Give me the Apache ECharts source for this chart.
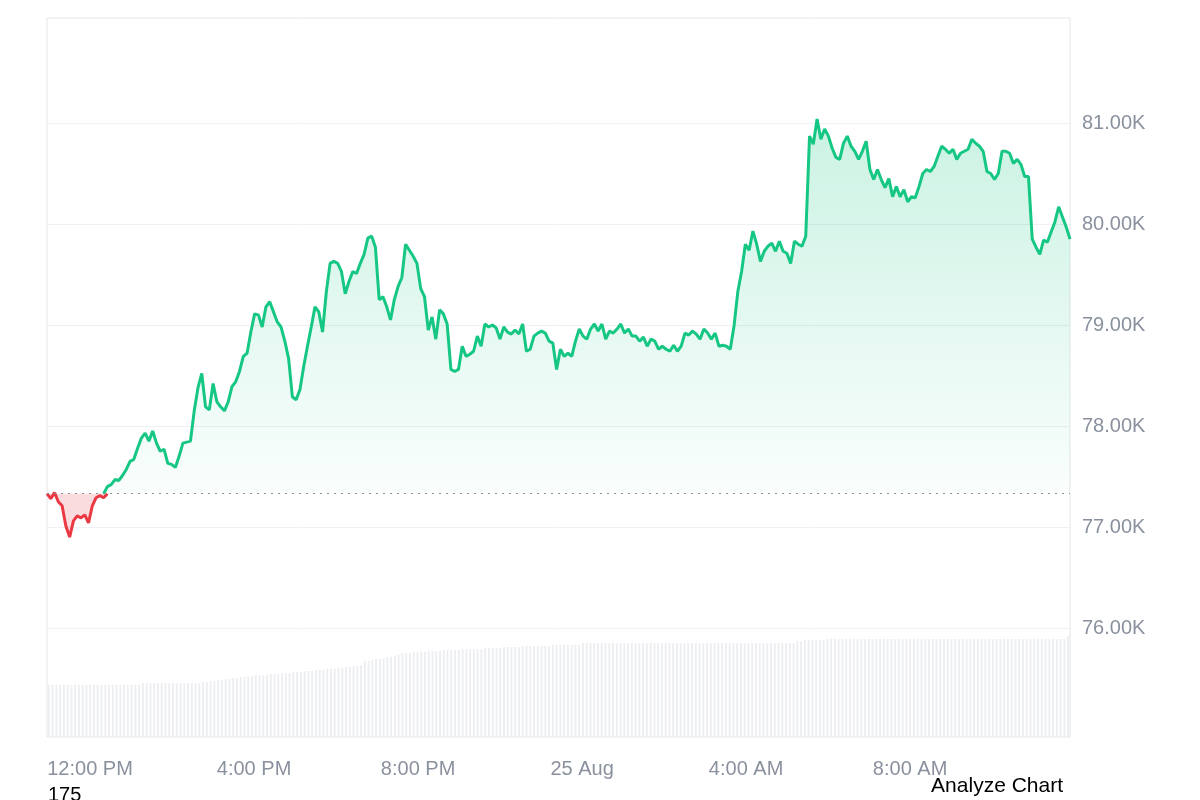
<!DOCTYPE html>
<html><head><meta charset="utf-8">
<script src="https://cdn.jsdelivr.net/npm/echarts@6/dist/echarts.min.js"></script>
<style>html,body{margin:0;padding:0;background:#fff}#c{width:1200px;height:800px}</style>
</head><body><div id="c"></div>
<script>
const baseline = 77.33;
const redPrices = [77.33,77.28,77.34,77.25,77.21,77.01,76.90,77.06,77.11,77.09,77.12,77.04,77.21,77.29,77.31,77.29];
const greenPrices = [77.40,77.42,77.47,77.46,77.51,77.57,77.65,77.67,77.78,77.88,
77.93,77.85,77.95,77.83,77.75,77.77,77.63,77.62,77.59,77.70,
77.83,77.84,77.85,78.15,78.38,78.52,78.19,78.16,78.42,78.24,
78.19,78.15,78.24,78.39,78.44,78.54,78.69,78.72,78.93,79.11,
79.10,78.98,79.18,79.23,79.13,79.03,78.98,78.84,78.67,78.29,
78.26,78.36,78.59,78.79,78.98,79.18,79.13,78.93,79.33,79.61,
79.63,79.61,79.53,79.31,79.43,79.53,79.51,79.61,79.70,79.86,
79.88,79.77,79.25,79.28,79.18,79.05,79.25,79.38,79.47,79.80,
79.74,79.68,79.61,79.36,79.28,78.95,79.08,78.86,79.15,79.11,
79.01,78.56,78.54,78.56,78.79,78.69,78.71,78.74,78.89,78.79,
79.01,78.98,79.00,78.97,78.86,78.98,78.93,78.91,78.95,78.91,
79.01,78.74,78.76,78.89,78.92,78.94,78.92,78.84,78.82,78.56,
78.76,78.69,78.72,78.69,78.84,78.96,78.89,78.86,78.96,79.01,
78.94,79.01,78.86,78.94,78.92,78.96,79.01,78.92,78.96,78.89,
78.89,78.84,78.88,78.79,78.86,78.84,78.76,78.79,78.76,78.74,
78.80,78.74,78.79,78.92,78.90,78.94,78.91,78.86,78.96,78.92,
78.86,78.92,78.79,78.80,78.79,78.76,78.99,79.33,79.53,79.80,
79.74,79.93,79.80,79.63,79.73,79.78,79.81,79.73,79.83,79.73,
79.71,79.61,79.83,79.80,79.78,79.88,80.87,80.79,81.04,80.84,
80.94,80.87,80.75,80.66,80.64,80.80,80.87,80.77,80.72,80.64,
80.72,80.82,80.54,80.44,80.54,80.44,80.36,80.45,80.27,80.37,
80.27,80.34,80.22,80.27,80.26,80.37,80.50,80.54,80.52,80.57,
80.67,80.77,80.74,80.70,80.74,80.64,80.70,80.72,80.74,80.84,
80.80,80.77,80.72,80.52,80.50,80.44,80.50,80.72,80.72,80.70,
80.60,80.64,80.59,80.47,80.47,79.85,79.77,79.70,79.84,79.82,
79.92,80.02,80.17,80.07,79.97,79.85];
const volumes = [52,52,52,52,52,52,52,52,52,52,52,52,52,52,52,52,52,52,52,52,52,52,52,52,52,
54,54,54,54,54,54,54,54,54,54,54,54,54,54,54,54,
55,55,56,56,57,57,58,58,59,59,60,60,61,61,62,62,
62,62,63,63,63,64,64,64,65,65,65,66,66,66,67,67,67,68,68,68,69,69,70,70,71,71,72,
76,76,77,78,78,79,80,80,81,82,
84,84,84,85,85,85,85,86,86,86,86,87,87,87,87,87,
88,88,88,88,88,88,89,89,89,89,89,90,90,90,90,90,
91,91,91,91,91,91,91,91,92,92,92,92,92,92,92,92,
94,94,94,94,94,94,94,94,94,94,94,94,94,94,94,94,94,94,94,94,94,94,94,94,94,94,94,94,94,94,94,94,94,94,94,94,94,94,94,94,94,94,94,94,94,94,94,94,94,94,94,94,94,94,94,94,94,
96,96,97,97,97,97,97,97,
98,98,98,98,98,98,98,98,98,98,98,98,98,98,98,98,98,98,98,98,98,98,98,98,98,98,98,98,98,98,98,98,
98,98,98,98,98,98,98,98,98,98,98,98,98,98,98,98,98,98,98,98,98,98,98,98,98,98,98,98,98,98,98,98,
101];
const startTime = new Date(2025,7,24,10,57).getTime();
const endTime = new Date(2025,7,25,11,54).getTime();
const yTicks = [76,77,78,79,80,81];

const n = redPrices.length + greenPrices.length;
const idx = Array.from({length:n},(_,i)=>i);
const redData = idx.map(i => i < redPrices.length ? redPrices[i] : (i === redPrices.length ? baseline : null));
const greenData = idx.map(i => i < redPrices.length-1 ? null : (i === redPrices.length-1 ? baseline : greenPrices[i-redPrices.length]));

const chart = echarts.init(document.getElementById('c'));
const lab = {color:'#8a919e', fontSize:20, fontFamily:'Arial, Liberation Sans, sans-serif'};
chart.setOption({
  animation:false,
  grid:[
    {left:47,right:130,top:22,bottom:71},
    {left:47,right:130,top:18,bottom:63,show:true,borderColor:'#e3e6ea',borderWidth:1}
  ],
  xAxis:[
    {type:'category',gridIndex:0,data:idx,boundaryGap:false,show:false,position:'top'},
    {type:'category',gridIndex:1,data:idx,boundaryGap:true,show:false,position:'top'},
    {type:'time',gridIndex:1,position:'bottom',min:startTime,max:endTime,splitNumber:6,
     axisLine:{show:false},axisTick:{show:false},splitLine:{show:false},
     axisLabel:Object.assign({margin:22,hideOverlap:false,formatter:function(v){
       const d=new Date(v);const h=d.getHours();
       if(h===0) return d.getDate()+' Aug';
       const hh=h%12===0?12:h%12; return hh+':00 '+(h<12?'AM':'PM');
     }},lab)}
  ],
  yAxis:[
    {type:'value',gridIndex:0,min:75,max:82,interval:1,position:'right',
     axisLine:{show:false},axisTick:{show:false},
     splitLine:{showMaxLine:false,showMinLine:false,lineStyle:{color:'#eef0f3',width:1}},
     axisLabel:Object.assign({margin:12,formatter:v=>yTicks.includes(v)?v.toFixed(2)+'K':''},lab)},
    {type:'value',gridIndex:1,min:0,max:719,show:false,splitLine:{show:false}}
  ],
  series:[
    {type:'bar',xAxisIndex:1,yAxisIndex:1,data:volumes,barWidth:'50%',itemStyle:{color:'#eceef2'},silent:true},
    {type:'line',xAxisIndex:0,yAxisIndex:0,data:redData,showSymbol:false,
     lineStyle:{color:'#ea3943',width:3},itemStyle:{color:'#ea3943'},
     areaStyle:{origin:baseline,color:'rgba(234,57,67,0.25)'}},
    {type:'line',xAxisIndex:0,yAxisIndex:0,data:greenData,showSymbol:false,
     lineStyle:{color:'#16c784',width:3},itemStyle:{color:'#16c784'},
     areaStyle:{origin:baseline,color:new echarts.graphic.LinearGradient(0,0,0,1,[
       {offset:0,color:'rgba(22,199,132,0.32)'},{offset:1,color:'rgba(22,199,132,0.03)'}])},
     markLine:{silent:true,symbol:'none',label:{show:false},
       lineStyle:{color:'#8a919e',type:[2,5],width:1.2},data:[{yAxis:baseline}]}}
  ],
  graphic:[
    {type:'text',left:48,top:785,style:{text:'175',fontSize:20,fill:'#000',fontFamily:'Arial, Liberation Sans, sans-serif'}},
    {type:'text',right:137,top:776,style:{text:'Analyze Chart',fontSize:21,fill:'#000',fontFamily:'Arial, Liberation Sans, sans-serif'}}
  ]
});
</script></body></html>
